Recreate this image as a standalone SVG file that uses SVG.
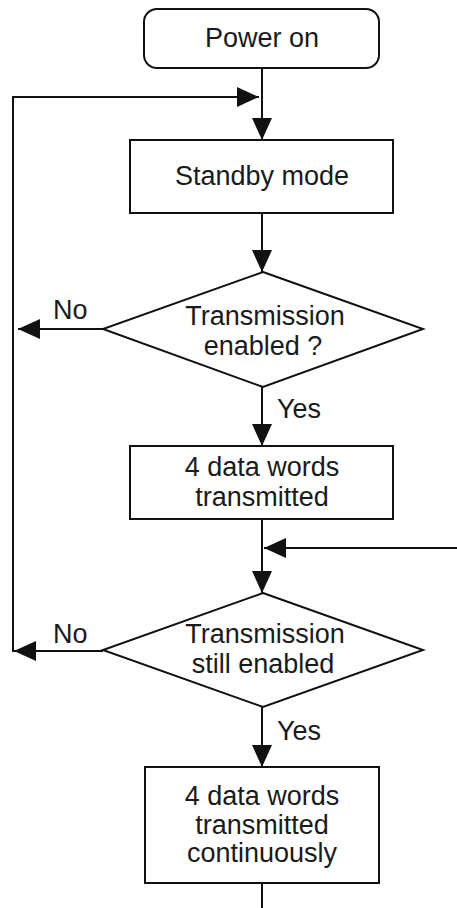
<svg xmlns="http://www.w3.org/2000/svg" width="457" height="908" viewBox="0 0 457 908">
<style>
.box{fill:#fff;stroke:#111;stroke-width:2}
.ln{fill:none;stroke:#111;stroke-width:2}
text{font-family:"Liberation Sans",Arial,sans-serif;font-size:27px;fill:#1a1a1a}
.c{text-anchor:middle}
</style>
<defs>
<marker id="ah" viewBox="0 0 22 20" refX="22" refY="10" markerWidth="22" markerHeight="20" markerUnits="userSpaceOnUse" orient="auto">
<path d="M0,0 L22,10 L0,20 Z" fill="#111"/>
</marker>
</defs>
<rect width="457" height="908" fill="#fff"/>
<g id="connectors">
<line class="ln" x1="262" y1="68" x2="262" y2="140" marker-end="url(#ah)"/>
<polyline class="ln" points="103,651 13,651 13,97 259,97" marker-end="url(#ah)"/>
<line class="ln" x1="262" y1="213" x2="262" y2="272" marker-end="url(#ah)"/>
<line class="ln" x1="103" y1="329" x2="18" y2="329" marker-end="url(#ah)"/>
<line class="ln" x1="262" y1="387" x2="262" y2="446" marker-end="url(#ah)"/>
<line class="ln" x1="262" y1="519" x2="262" y2="593" marker-end="url(#ah)"/>
<line class="ln" x1="457" y1="548" x2="264" y2="548" marker-end="url(#ah)"/>
<line class="ln" x1="30" y1="651" x2="14" y2="651" marker-end="url(#ah)"/>
<line class="ln" x1="262" y1="707" x2="262" y2="767" marker-end="url(#ah)"/>
<line class="ln" x1="262" y1="883" x2="262" y2="908"/>
<text x="53" y="319">No</text>
<text x="277" y="418">Yes</text>
<text x="53" y="643">No</text>
<text x="277" y="740">Yes</text>
</g>
<g id="power-on">
<rect class="box" x="144" y="9" width="235" height="59" rx="13"/>
<text class="c" x="262" y="47">Power on</text>
</g>
<g id="standby">
<rect class="box" x="130" y="140" width="263" height="73"/>
<text class="c" x="262" y="185">Standby mode</text>
</g>
<g id="decision1">
<polygon class="box" points="263,272 423,329 263,387 103,329"/>
<text class="c" x="265" y="325">Transmission</text>
<text class="c" x="263" y="355">enabled ?</text>
</g>
<g id="transmit">
<rect class="box" x="130" y="446" width="263" height="73"/>
<text class="c" x="262" y="476">4 data words</text>
<text class="c" x="262" y="506">transmitted</text>
</g>
<g id="decision2">
<polygon class="box" points="263,593 423,650 263,707 103,650"/>
<text class="c" x="265" y="643">Transmission</text>
<text class="c" x="263" y="673">still enabled</text>
</g>
<g id="continuous">
<rect class="box" x="145" y="767" width="234" height="116"/>
<text class="c" x="262" y="805">4 data words</text>
<text class="c" x="262" y="834">transmitted</text>
<text class="c" x="262" y="862">continuously</text>
</g>
</svg>
